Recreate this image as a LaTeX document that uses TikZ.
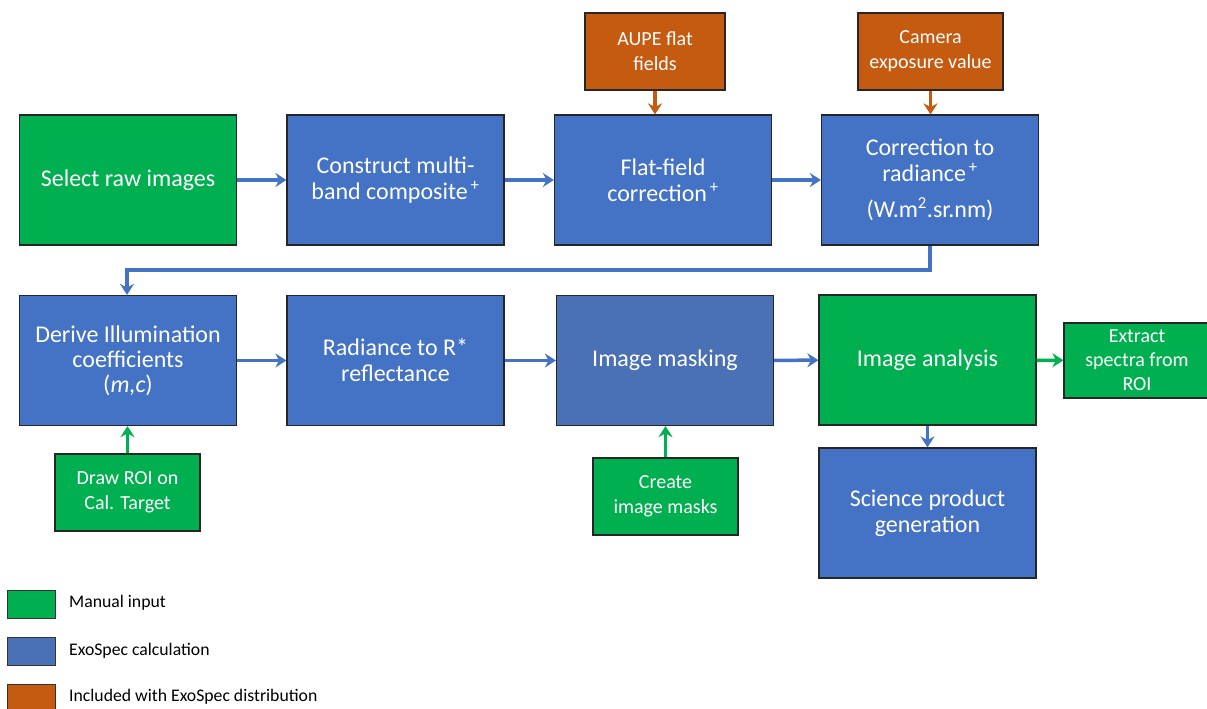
\documentclass[tikz,border=0pt]{standalone}
\usepackage{fontspec}
\setmainfont{Carlito}
\usetikzlibrary{arrows.meta}
\definecolor{cblue}{HTML}{4472C4}
\definecolor{cblueB}{HTML}{4A70B6}
\definecolor{cgreen}{HTML}{00B050}
\definecolor{corange}{HTML}{C55A11}
\tikzset{
  box/.style={draw=black!85, line width=1.2pt, text=white, align=center, inner sep=0pt,
    font=\fontsize{24}{26}\selectfont},
  bigbox/.style={box, minimum width=217pt, minimum height=130pt},
  smallbox/.style={box, minimum width=145pt, minimum height=77pt, font=\fontsize{20}{25}\selectfont},
  conn/.style={line width=3.5pt, -{Stealth[length=11pt,width=14pt]}},
  barrow/.style={conn, draw=cblue},
  garrow/.style={conn, draw=cgreen},
  oarrow/.style={conn, draw=corange},
  legbox/.style={draw=black!80, line width=1pt, minimum width=48pt, minimum height=28pt, inner sep=0pt},
  legtext/.style={anchor=west, inner sep=0pt, font=\fontsize{17.7}{20}\selectfont}
}
\begin{document}
\begin{tikzpicture}[x=1pt,y=-1pt]
\useasboundingbox (0,0) rectangle (1207,709);
% row 1
\node[bigbox, fill=cgreen] (raw) at (128,180) {Select raw images};
\node[bigbox, fill=cblue] (construct) at (395.5,180) {Construct multi-\\band composite\textsuperscript{\,+}};
\node[bigbox, fill=cblue] (flat) at (663,180) {Flat-field\\correction\textsuperscript{\,+}};
\node[bigbox, fill=cblue] (corr) at (930,180) {Correction to\\radiance\textsuperscript{\,+}\\[10pt](W.m\textsuperscript{2}.sr.nm)};
\node[smallbox, fill=corange, minimum width=140pt] (aupe) at (655,51.5) {AUPE flat\\fields};
\node[smallbox, fill=corange] (camera) at (930.5,51.5) {Camera\\exposure value};
% row 2
\node[bigbox, fill=cblue, font=\fontsize{24}{25}\selectfont] (derive) at (128,360.5) {Derive Illumination\\coefficients\\(\textit{m,c})};
\node[bigbox, fill=cblue] (rad) at (395.5,360.5) {Radiance to R*\\reflectance};
\node[bigbox, fill=cblueB] (mask) at (665,360.5) {Image masking};
\node[bigbox, fill=cgreen] (analysis) at (927.5,360) {Image analysis};
\node[smallbox, fill=cgreen, minimum width=146pt, minimum height=75pt, font=\fontsize{20}{24}\selectfont] (extract) at (1137,360.5) {Extract\\spectra from\\ROI};
\node[bigbox, fill=cblue] (science) at (927.5,513) {Science product\\generation};
\node[smallbox, fill=cgreen] (roi) at (127.5,492.5) {Draw ROI on\\Cal. Target};
\node[smallbox, fill=cgreen] (create) at (665.5,496.5) {Create\\image masks};
% connectors
\draw[barrow] (raw) -- (construct);
\draw[barrow] (construct) -- (flat);
\draw[barrow] (flat) -- (corr);
\draw[oarrow] (aupe.south) -- (aupe.south |- flat.north);
\draw[oarrow] (camera.south) -- (camera.south |- corr.north);
\coordinate (bend) at (127,270);
\draw[barrow] (corr.south) -- (corr.south |- bend) -- (bend) -- (bend |- derive.north);
\draw[barrow] (derive) -- (rad);
\draw[barrow] (rad) -- (mask);
\draw[barrow] (mask) -- (analysis);
\draw[garrow] (analysis) -- (extract);
\draw[barrow] (analysis) -- (science);
\draw[garrow] (roi.north) -- (roi.north |- derive.south);
\draw[garrow] (create.north) -- (create.north |- mask.south);
% legend
\node[legbox, fill=cgreen] (l1) at (31,604) {};
\node[legbox, fill=cblueB] (l2) at (31,651) {};
\node[legbox, fill=corange] (l3) at (31,698) {};
\node[legtext] (t1) at (69,603) {Manual input};
\node[legtext] (t2) at (69,651) {ExoSpec calculation};
\node[legtext] (t3) at (69,697) {Included with ExoSpec distribution};
\end{tikzpicture}
\end{document}
